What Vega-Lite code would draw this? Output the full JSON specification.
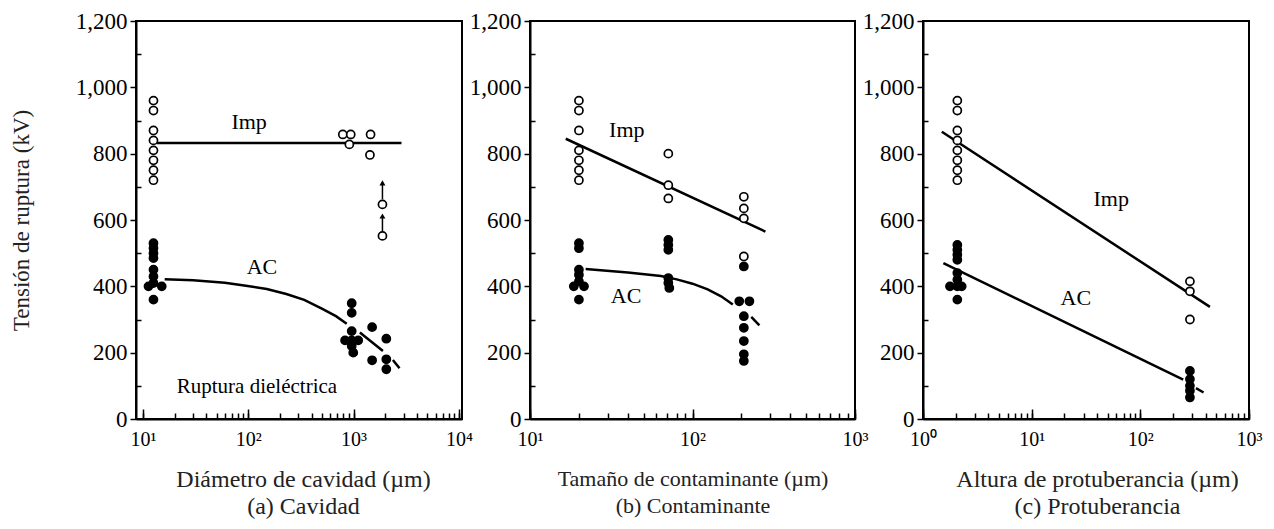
{
  "$schema": "https://vega.github.io/schema/vega-lite/v6.json",
  "background": "white",
  "padding": {"left": 9, "top": 9, "right": 5, "bottom": 5},
  "bounds": "flush",
  "spacing": 68,
  "config": {
    "view": {"stroke": "black", "strokeWidth": 2},
    "font": "Liberation Serif",
    "axis": {
      "grid": false, "domainColor": "black", "domainWidth": 2,
      "tickColor": "black", "tickWidth": 1.5,
      "labelFont": "Liberation Serif", "labelColor": "black",
      "titleFont": "Liberation Serif", "titleFontWeight": "normal", "titleColor": "#222",
      "labelOverlap": false, "labelFlush": false, "labelBound": false
    }
  },
  "datasets": {
    "points": [
      {"p": "a", "s": "Imp", "x": 12.6, "kV": 960}, {"p": "a", "s": "Imp", "x": 12.6, "kV": 930},
      {"p": "a", "s": "Imp", "x": 12.6, "kV": 870}, {"p": "a", "s": "Imp", "x": 12.6, "kV": 840},
      {"p": "a", "s": "Imp", "x": 12.6, "kV": 810}, {"p": "a", "s": "Imp", "x": 12.6, "kV": 780},
      {"p": "a", "s": "Imp", "x": 12.6, "kV": 750}, {"p": "a", "s": "Imp", "x": 12.6, "kV": 720},
      {"p": "a", "s": "Imp", "x": 790, "kV": 858}, {"p": "a", "s": "Imp", "x": 940, "kV": 858},
      {"p": "a", "s": "Imp", "x": 912, "kV": 828}, {"p": "a", "s": "Imp", "x": 1450, "kV": 858},
      {"p": "a", "s": "Imp", "x": 1430, "kV": 796}, {"p": "a", "s": "Imp", "x": 1880, "kV": 647},
      {"p": "a", "s": "Imp", "x": 1880, "kV": 552},
      {"p": "a", "s": "AC", "x": 12.6, "kV": 530}, {"p": "a", "s": "AC", "x": 12.6, "kV": 515},
      {"p": "a", "s": "AC", "x": 12.6, "kV": 500}, {"p": "a", "s": "AC", "x": 12.6, "kV": 485},
      {"p": "a", "s": "AC", "x": 12.6, "kV": 450}, {"p": "a", "s": "AC", "x": 12.6, "kV": 430},
      {"p": "a", "s": "AC", "x": 12.6, "kV": 410}, {"p": "a", "s": "AC", "x": 11.3, "kV": 400},
      {"p": "a", "s": "AC", "x": 15.1, "kV": 400}, {"p": "a", "s": "AC", "x": 12.6, "kV": 360},
      {"p": "a", "s": "AC", "x": 960, "kV": 349}, {"p": "a", "s": "AC", "x": 960, "kV": 320},
      {"p": "a", "s": "AC", "x": 960, "kV": 265}, {"p": "a", "s": "AC", "x": 830, "kV": 237},
      {"p": "a", "s": "AC", "x": 960, "kV": 237}, {"p": "a", "s": "AC", "x": 1107, "kV": 237},
      {"p": "a", "s": "AC", "x": 960, "kV": 220}, {"p": "a", "s": "AC", "x": 993, "kV": 200},
      {"p": "a", "s": "AC", "x": 1500, "kV": 277}, {"p": "a", "s": "AC", "x": 2046, "kV": 242},
      {"p": "a", "s": "AC", "x": 1500, "kV": 177}, {"p": "a", "s": "AC", "x": 2046, "kV": 180},
      {"p": "a", "s": "AC", "x": 2046, "kV": 150},

      {"p": "b", "s": "Imp", "x": 20, "kV": 960}, {"p": "b", "s": "Imp", "x": 20, "kV": 930},
      {"p": "b", "s": "Imp", "x": 20, "kV": 870}, {"p": "b", "s": "Imp", "x": 20, "kV": 810},
      {"p": "b", "s": "Imp", "x": 20, "kV": 780}, {"p": "b", "s": "Imp", "x": 20, "kV": 750},
      {"p": "b", "s": "Imp", "x": 20, "kV": 720},
      {"p": "b", "s": "Imp", "x": 71, "kV": 800}, {"p": "b", "s": "Imp", "x": 71, "kV": 705},
      {"p": "b", "s": "Imp", "x": 71, "kV": 665},
      {"p": "b", "s": "Imp", "x": 207, "kV": 670}, {"p": "b", "s": "Imp", "x": 207, "kV": 635},
      {"p": "b", "s": "Imp", "x": 207, "kV": 605}, {"p": "b", "s": "Imp", "x": 207, "kV": 490},
      {"p": "b", "s": "AC", "x": 20, "kV": 530}, {"p": "b", "s": "AC", "x": 20, "kV": 515},
      {"p": "b", "s": "AC", "x": 20, "kV": 450}, {"p": "b", "s": "AC", "x": 20, "kV": 435},
      {"p": "b", "s": "AC", "x": 20, "kV": 415}, {"p": "b", "s": "AC", "x": 18.6, "kV": 400},
      {"p": "b", "s": "AC", "x": 21.5, "kV": 400}, {"p": "b", "s": "AC", "x": 20, "kV": 360},
      {"p": "b", "s": "AC", "x": 71, "kV": 540}, {"p": "b", "s": "AC", "x": 71, "kV": 525},
      {"p": "b", "s": "AC", "x": 71, "kV": 510}, {"p": "b", "s": "AC", "x": 71, "kV": 425},
      {"p": "b", "s": "AC", "x": 71, "kV": 410}, {"p": "b", "s": "AC", "x": 72, "kV": 395},
      {"p": "b", "s": "AC", "x": 207, "kV": 460}, {"p": "b", "s": "AC", "x": 194, "kV": 355},
      {"p": "b", "s": "AC", "x": 224, "kV": 355}, {"p": "b", "s": "AC", "x": 207, "kV": 310},
      {"p": "b", "s": "AC", "x": 207, "kV": 275}, {"p": "b", "s": "AC", "x": 207, "kV": 235},
      {"p": "b", "s": "AC", "x": 207, "kV": 195}, {"p": "b", "s": "AC", "x": 207, "kV": 175},

      {"p": "c", "s": "Imp", "x": 2.07, "kV": 960}, {"p": "c", "s": "Imp", "x": 2.07, "kV": 930},
      {"p": "c", "s": "Imp", "x": 2.07, "kV": 870}, {"p": "c", "s": "Imp", "x": 2.07, "kV": 840},
      {"p": "c", "s": "Imp", "x": 2.07, "kV": 810}, {"p": "c", "s": "Imp", "x": 2.07, "kV": 780},
      {"p": "c", "s": "Imp", "x": 2.07, "kV": 750}, {"p": "c", "s": "Imp", "x": 2.07, "kV": 720},
      {"p": "c", "s": "Imp", "x": 286, "kV": 415}, {"p": "c", "s": "Imp", "x": 286, "kV": 385},
      {"p": "c", "s": "Imp", "x": 286, "kV": 300},
      {"p": "c", "s": "AC", "x": 2.07, "kV": 525}, {"p": "c", "s": "AC", "x": 2.07, "kV": 510},
      {"p": "c", "s": "AC", "x": 2.07, "kV": 495}, {"p": "c", "s": "AC", "x": 2.07, "kV": 480},
      {"p": "c", "s": "AC", "x": 2.07, "kV": 440}, {"p": "c", "s": "AC", "x": 2.07, "kV": 420},
      {"p": "c", "s": "AC", "x": 1.77, "kV": 400}, {"p": "c", "s": "AC", "x": 2.27, "kV": 400},
      {"p": "c", "s": "AC", "x": 2.07, "kV": 400}, {"p": "c", "s": "AC", "x": 2.07, "kV": 360},
      {"p": "c", "s": "AC", "x": 286, "kV": 145}, {"p": "c", "s": "AC", "x": 286, "kV": 120},
      {"p": "c", "s": "AC", "x": 286, "kV": 100}, {"p": "c", "s": "AC", "x": 286, "kV": 85},
      {"p": "c", "s": "AC", "x": 286, "kV": 65}
    ],
    "lines": [
      {"p": "a", "seg": "a1", "x": 13.5, "kV": 832}, {"p": "a", "seg": "a1", "x": 2850, "kV": 832},
      {"p": "a", "seg": "a2", "x": 16.1, "kV": 421}, {"p": "a", "seg": "a2", "x": 30, "kV": 418},
      {"p": "a", "seg": "a2", "x": 60, "kV": 411}, {"p": "a", "seg": "a2", "x": 95, "kV": 402},
      {"p": "a", "seg": "a2", "x": 150, "kV": 392}, {"p": "a", "seg": "a2", "x": 230, "kV": 377},
      {"p": "a", "seg": "a2", "x": 340, "kV": 359}, {"p": "a", "seg": "a2", "x": 500, "kV": 333},
      {"p": "a", "seg": "a2", "x": 680, "kV": 310}, {"p": "a", "seg": "a2", "x": 861, "kV": 287},
      {"p": "a", "seg": "a3", "x": 1148, "kV": 261}, {"p": "a", "seg": "a3", "x": 1900, "kV": 205},
      {"p": "a", "seg": "a4", "x": 2362, "kV": 178}, {"p": "a", "seg": "a4", "x": 2730, "kV": 153},
      {"p": "b", "seg": "b1", "x": 16.6, "kV": 845}, {"p": "b", "seg": "b1", "x": 281, "kV": 565},
      {"p": "b", "seg": "b2", "x": 22, "kV": 452}, {"p": "b", "seg": "b2", "x": 40, "kV": 442},
      {"p": "b", "seg": "b2", "x": 64, "kV": 431}, {"p": "b", "seg": "b2", "x": 80, "kV": 421},
      {"p": "b", "seg": "b2", "x": 100, "kV": 408}, {"p": "b", "seg": "b2", "x": 124, "kV": 391},
      {"p": "b", "seg": "b2", "x": 150, "kV": 370}, {"p": "b", "seg": "b2", "x": 177, "kV": 345},
      {"p": "b", "seg": "b3", "x": 230, "kV": 308}, {"p": "b", "seg": "b3", "x": 258, "kV": 282},
      {"p": "c", "seg": "c1", "x": 1.49, "kV": 866}, {"p": "c", "seg": "c1", "x": 437, "kV": 338},
      {"p": "c", "seg": "c2", "x": 1.54, "kV": 470}, {"p": "c", "seg": "c2", "x": 248, "kV": 119},
      {"p": "c", "seg": "c3", "x": 325, "kV": 93}, {"p": "c", "seg": "c3", "x": 382, "kV": 80}
    ],
    "labels": [
      {"p": "a", "x": 102, "kV": 895, "t": "Imp", "size": 22},
      {"p": "a", "x": 135, "kV": 458, "t": "AC", "size": 22},
      {"p": "a", "x": 121, "kV": 95, "t": "Ruptura dieléctrica", "size": 21},
      {"p": "b", "x": 39.4, "kV": 870, "t": "Imp", "size": 22},
      {"p": "b", "x": 39, "kV": 372, "t": "AC", "size": 22},
      {"p": "c", "x": 54, "kV": 662, "t": "Imp", "size": 22},
      {"p": "c", "x": 25.5, "kV": 364, "t": "AC", "size": 22}
    ],
    "arrows": [
      {"x": 1880, "kV": 662, "kV2": 712},
      {"x": 1880, "kV": 566, "kV2": 612}
    ]
  },
  "hconcat": [
    {
      "width": 326, "height": 398,
      "resolve": {"axis": {"x": "independent", "y": "independent"}},
      "layer": [
        {"data": {"name": "lines"}, "transform": [{"filter": "datum.p === 'a'"}],
         "mark": {"type": "line", "color": "black", "strokeWidth": 2.5},
         "encoding": {
           "x": {"field": "x", "type": "quantitative",
             "scale": {"type": "log", "domain": [8.6, 10700], "nice": false},
             "axis": {
               "orient": "bottom",
               "values": [10,20,30,40,50,60,70,80,90,100,200,300,400,500,600,700,800,900,1000,2000,3000,4000,5000,6000,7000,8000,9000,10000],
               "labelExpr": "abs(log(datum.value)/LN10 - round(log(datum.value)/LN10)) < 0.001 ? '10' + ['⁰','¹','²','³','⁴'][round(log(datum.value)/LN10)] : ''",
               "tickSize": -6, "labelPadding": 16, "labelFontSize": 20,
               "title": ["Diámetro de cavidad (µm)", "(a) Cavidad"],
               "titleFontSize": 24, "titleLineHeight": 27, "titlePadding": 18, "titleX": 167
             }},
           "y": {"field": "kV", "type": "quantitative",
             "scale": {"domain": [0, 1200], "nice": false},
             "axis": {
               "orient": "left",
               "values": [0,200,400,600,800,1000,1200], "format": ",.0f",
               "tickSize": 6, "labelPadding": 3, "labelFontSize": 23,
               "title": "Tensión de ruptura (kV)", "titleFontSize": 23, "titlePadding": 42
             }},
           "detail": {"field": "seg"}
         }},
        {"data": {"name": "arrows"},
         "mark": {"type": "rule", "color": "black", "strokeWidth": 1.5},
         "encoding": {
           "x": {"field": "x", "type": "quantitative", "axis": null},
           "y": {"field": "kV", "type": "quantitative", "axis": null},
           "y2": {"field": "kV2"}}},
        {"data": {"name": "arrows"},
         "mark": {"type": "point", "shape": "triangle-up", "filled": true, "color": "black", "size": 35, "opacity": 1},
         "encoding": {
           "x": {"field": "x", "type": "quantitative", "axis": null},
           "y": {"field": "kV2", "type": "quantitative", "axis": null}}},
        {"data": {"name": "points"}, "transform": [{"filter": "datum.p === 'a'"}],
         "mark": {"type": "point", "shape": "circle", "size": 65, "stroke": "black", "strokeWidth": 1.7, "opacity": 1, "fillOpacity": 1},
         "encoding": {
           "x": {"field": "x", "type": "quantitative", "axis": null},
           "y": {"field": "kV", "type": "quantitative", "axis": null},
           "fill": {"field": "s", "type": "nominal", "scale": {"domain": ["Imp", "AC"], "range": ["white", "black"]}, "legend": null}}},
        {"data": {"name": "labels"}, "transform": [{"filter": "datum.p === 'a'"}],
         "mark": {"type": "text", "font": "Liberation Serif", "color": "black", "baseline": "middle"},
         "encoding": {
           "x": {"field": "x", "type": "quantitative",
             "axis": {"orient": "bottom", "values": [10, 100, 1000, 10000], "labels": false, "domain": false, "tickSize": -10, "title": null}},
           "y": {"field": "kV", "type": "quantitative",
             "axis": {"orient": "left", "values": [100,300,500,700,900,1100], "labels": false, "domain": false, "tickSize": -5, "title": null}},
           "text": {"field": "t"}, "size": {"field": "size", "type": "quantitative", "scale": null}}}
      ]
    },
    {
      "width": 325, "height": 398,
      "resolve": {"axis": {"x": "independent", "y": "independent"}},
      "layer": [
        {"data": {"name": "lines"}, "transform": [{"filter": "datum.p === 'b'"}],
         "mark": {"type": "line", "color": "black", "strokeWidth": 2.5},
         "encoding": {
           "x": {"field": "x", "type": "quantitative",
             "scale": {"type": "log", "domain": [10, 1000], "nice": false},
             "axis": {
               "orient": "bottom",
               "values": [10,20,30,40,50,60,70,80,90,100,200,300,400,500,600,700,800,900,1000],
               "labelExpr": "abs(log(datum.value)/LN10 - round(log(datum.value)/LN10)) < 0.001 ? '10' + ['⁰','¹','²','³','⁴'][round(log(datum.value)/LN10)] : ''",
               "tickSize": -6, "labelPadding": 16, "labelFontSize": 20,
               "title": ["Tamaño de contaminante (µm)", "(b) Contaminante"],
               "titleFontSize": 22, "titleLineHeight": 27, "titlePadding": 19
             }},
           "y": {"field": "kV", "type": "quantitative",
             "scale": {"domain": [0, 1200], "nice": false},
             "axis": {
               "orient": "left",
               "values": [0,200,400,600,800,1000,1200], "format": ",.0f",
               "tickSize": 6, "labelPadding": 3, "labelFontSize": 23, "title": null
             }},
           "detail": {"field": "seg"}
         }},
        {"data": {"name": "points"}, "transform": [{"filter": "datum.p === 'b'"}],
         "mark": {"type": "point", "shape": "circle", "size": 65, "stroke": "black", "strokeWidth": 1.7, "opacity": 1, "fillOpacity": 1},
         "encoding": {
           "x": {"field": "x", "type": "quantitative", "axis": null},
           "y": {"field": "kV", "type": "quantitative", "axis": null},
           "fill": {"field": "s", "type": "nominal", "scale": {"domain": ["Imp", "AC"], "range": ["white", "black"]}, "legend": null}}},
        {"data": {"name": "labels"}, "transform": [{"filter": "datum.p === 'b'"}],
         "mark": {"type": "text", "font": "Liberation Serif", "color": "black", "baseline": "middle"},
         "encoding": {
           "x": {"field": "x", "type": "quantitative",
             "axis": {"orient": "bottom", "values": [10, 100, 1000], "labels": false, "domain": false, "tickSize": -10, "title": null}},
           "y": {"field": "kV", "type": "quantitative",
             "axis": {"orient": "left", "values": [100,300,500,700,900,1100], "labels": false, "domain": false, "tickSize": -5, "title": null}},
           "text": {"field": "t"}, "size": {"field": "size", "type": "quantitative", "scale": null}}}
      ]
    },
    {
      "width": 326, "height": 398,
      "resolve": {"axis": {"x": "independent", "y": "independent"}},
      "layer": [
        {"data": {"name": "lines"}, "transform": [{"filter": "datum.p === 'c'"}],
         "mark": {"type": "line", "color": "black", "strokeWidth": 2.5},
         "encoding": {
           "x": {"field": "x", "type": "quantitative",
             "scale": {"type": "log", "domain": [1, 1000], "nice": false},
             "axis": {
               "orient": "bottom",
               "values": [1,2,3,4,5,6,7,8,9,10,20,30,40,50,60,70,80,90,100,200,300,400,500,600,700,800,900,1000],
               "labelExpr": "abs(log(datum.value)/LN10 - round(log(datum.value)/LN10)) < 0.001 ? '10' + ['⁰','¹','²','³','⁴'][round(log(datum.value)/LN10)] : ''",
               "tickSize": -6, "labelPadding": 16, "labelFontSize": 20,
               "title": ["Altura de protuberancia (µm)", "(c) Protuberancia"],
               "titleFontSize": 24, "titleLineHeight": 27, "titlePadding": 18, "titleX": 174
             }},
           "y": {"field": "kV", "type": "quantitative",
             "scale": {"domain": [0, 1200], "nice": false},
             "axis": {
               "orient": "left",
               "values": [0,200,400,600,800,1000,1200], "format": ",.0f",
               "tickSize": 6, "labelPadding": 3, "labelFontSize": 23, "title": null
             }},
           "detail": {"field": "seg"}
         }},
        {"data": {"name": "points"}, "transform": [{"filter": "datum.p === 'c'"}],
         "mark": {"type": "point", "shape": "circle", "size": 65, "stroke": "black", "strokeWidth": 1.7, "opacity": 1, "fillOpacity": 1},
         "encoding": {
           "x": {"field": "x", "type": "quantitative", "axis": null},
           "y": {"field": "kV", "type": "quantitative", "axis": null},
           "fill": {"field": "s", "type": "nominal", "scale": {"domain": ["Imp", "AC"], "range": ["white", "black"]}, "legend": null}}},
        {"data": {"name": "labels"}, "transform": [{"filter": "datum.p === 'c'"}],
         "mark": {"type": "text", "font": "Liberation Serif", "color": "black", "baseline": "middle"},
         "encoding": {
           "x": {"field": "x", "type": "quantitative",
             "axis": {"orient": "bottom", "values": [1, 10, 100, 1000], "labels": false, "domain": false, "tickSize": -10, "title": null}},
           "y": {"field": "kV", "type": "quantitative",
             "axis": {"orient": "left", "values": [100,300,500,700,900,1100], "labels": false, "domain": false, "tickSize": -5, "title": null}},
           "text": {"field": "t"}, "size": {"field": "size", "type": "quantitative", "scale": null}}}
      ]
    }
  ]
}
